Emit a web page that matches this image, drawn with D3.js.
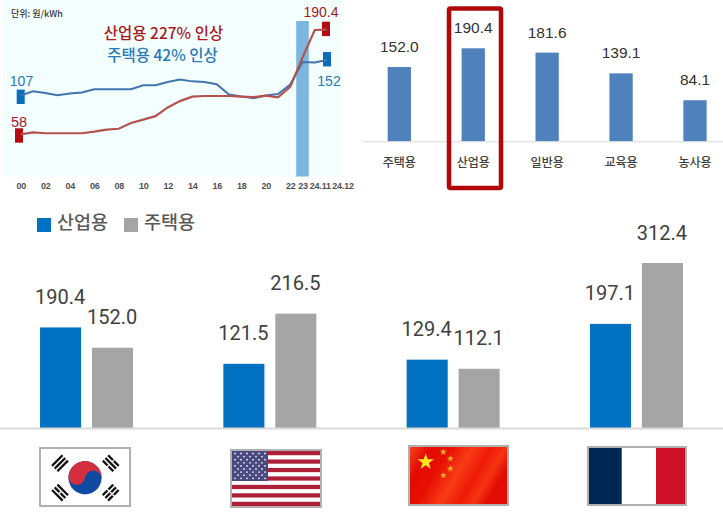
<!DOCTYPE html>
<html>
<head>
<meta charset="utf-8">
<script src="https://cdn.jsdelivr.net/npm/d3@7/dist/d3.min.js"></script>
<style>
html, body { margin: 0; padding: 0; background: #fff; }
svg { display: block; }
text { font-family: "Noto Sans CJK KR", sans-serif; }
.num { font-family: "Liberation Sans", sans-serif; }
.big { font-family: Roboto, sans-serif; }
</style>
</head>
<body>
<div id="root"></div>
<script>
// trend panel
const periods = ['00', '01', '02', '03', '04', '05', '06', '07', '08', '09', '10', '11', '12',
    '13', '14', '15', '16', '17', '18', '19', '20', '21', '22', '23', '24.11', '24.12'];
const shownPeriods = ['00', '02', '04', '06', '08', '10', '12', '14', '16', '18', '20', '22', '23', '24.11', '24.12'];
const industrialTrend = [58, 60.5, 59.3, 59.3, 59.3, 59.3, 61.4, 64, 65, 72.3, 76.6, 81, 92,
    100, 105.7, 106.5, 106.5, 106.5, 105.7, 105, 107, 104.8, 118, 155, 190, 190.4];
const housingTrend = [107, 112.5, 110.4, 107.4, 109.5, 110.8, 115, 115, 115, 115, 120, 120, 124.3,
    127.3, 125, 124.3, 121.3, 108.3, 106, 103.6, 107, 109, 121, 149.6, 149, 152];

// sector panel
const sectors = ['주택용', '산업용', '일반용', '교육용', '농사용'];
const sectorValues = [152.0, 190.4, 181.6, 139.1, 84.1];

// country panel
const countries = ['한국', '미국', '중국', '프랑스'];
const seriesNames = ['산업용', '주택용'];
const industrialByCountry = [190.4, 121.5, 129.4, 197.1];
const housingByCountry = [152.0, 216.5, 112.1, 312.4];

const width = 723;
const height = 514;

const svg = d3.select('#root').append('svg').
    attr('width', width).
    attr('height', height);

const darkText = '#404040';
const redLine = '#b5514f';
const blueLine = '#4275ad';
const redMark = '#b50a0f';
const blueMark = '#0b6cbc';

// ---- trend panel
const trend = svg.append('g');

trend.append('rect').
    attr('x', 3).
    attr('y', 0).
    attr('width', 338).
    attr('height', 176.5).
    attr('fill', '#f3ffff');

const xTrend = d3.scalePoint().domain(periods).range([20.7, 327]);
const yTrend = d3.scaleLinear().domain([58, 190.4]).range([134.3, 29.7]);

trend.append('rect').
    attr('x', xTrend('23') - 6.3).
    attr('y', 21).
    attr('width', 12.6).
    attr('height', 155.5).
    attr('fill', '#7cb6df');

const endMarks = [
    { period: '00', value: industrialTrend[0], color: redMark, dx: -1.7, dy: -6 },
    { period: '00', value: housingTrend[0], color: blueMark, dx: 0, dy: -6 },
    { period: '24.12', value: industrialTrend[25], color: redMark, dx: -1, dy: -8 },
    { period: '24.12', value: housingTrend[25], color: blueMark, dx: 0, dy: -8 }
];

trend.selectAll('.end-mark').data(endMarks).enter().append('rect').
    attr('class', 'end-mark').
    attr('x', d => xTrend(d.period) + d.dx - 4).
    attr('y', d => yTrend(d.value) + d.dy).
    attr('width', 8).
    attr('height', 14.4).
    attr('fill', d => d.color);

const trendLine = d3.line().
    x((d, i) => xTrend(periods[i])).
    y(d => yTrend(d));

trend.append('path').
    attr('d', trendLine(housingTrend)).
    attr('fill', 'none').
    attr('stroke', blueLine).
    attr('stroke-width', 2);

trend.append('path').
    attr('d', trendLine(industrialTrend)).
    attr('fill', 'none').
    attr('stroke', redLine).
    attr('stroke-width', 2.2);

const trendAxis = trend.append('g').
    attr('transform', 'translate(0, 176)').
    call(d3.axisBottom(xTrend).tickValues(shownPeriods).tickSize(0));

trendAxis.select('.domain').remove();
trendAxis.selectAll('text').
    attr('class', 'num').
    attr('y', 6.5).
    attr('dy', '0.71em').
    attr('dx', d => d === '24.11' ? 5 : d === '24.12' ? 15.5 : 0).
    style('font-size', '9px').
    style('font-weight', 'bold').
    style('letter-spacing', '-0.2px').
    attr('fill', '#505050');

const trendTexts = [
    { t: '단위: 원/kWh', x: 11, y: 16.5, size: 9, fill: '#333', anchor: 'start', cls: '', weight: 500 },
    { t: '산업용 227% 인상', x: 163.5, y: 39, size: 15.5, fill: '#a8181c', anchor: 'middle', cls: '', weight: 500 },
    { t: '주택용 42% 인상', x: 162.5, y: 61, size: 15.5, fill: '#2a78b8', anchor: 'middle', cls: '', weight: 500 },
    { t: '107', x: 21.5, y: 85.7, size: 14, fill: '#2a78b8', anchor: 'middle', cls: 'num', weight: 400 },
    { t: '58', x: 19, y: 127, size: 14.5, fill: '#a8181c', anchor: 'middle', cls: 'num', weight: 400 },
    { t: '190.4', x: 321, y: 17, size: 14, fill: '#a8181c', anchor: 'middle', cls: 'num', weight: 400 },
    { t: '152', x: 329, y: 86, size: 14, fill: '#2a78b8', anchor: 'middle', cls: 'num', weight: 400 }
];

trend.selectAll('.note').data(trendTexts).enter().append('text').
    attr('class', d => 'note ' + d.cls).
    attr('x', d => d.x).
    attr('y', d => d.y).
    attr('text-anchor', d => d.anchor).
    attr('fill', d => d.fill).
    style('font-size', d => d.size + 'px').
    style('font-weight', d => d.weight).
    text(d => d.t);

// ---- sector panel
const sector = svg.append('g');

const xSector = d3.scaleBand().
    domain(sectors).
    range([362.3, 732]).
    paddingInner(0.685).
    paddingOuter(0.343);
const sectorBase = 141.3;
const ySector = d3.scaleLinear().domain([0, 190.4]).range([sectorBase, 48.3]);

sector.selectAll('.sector-bar').data(sectorValues).enter().append('rect').
    attr('class', 'sector-bar').
    attr('x', (d, i) => xSector(sectors[i])).
    attr('y', d => ySector(d)).
    attr('width', xSector.bandwidth()).
    attr('height', d => sectorBase - ySector(d)).
    attr('fill', '#4f81bd');

sector.selectAll('.sector-value').data(sectorValues).enter().append('text').
    attr('class', 'sector-value num').
    attr('x', (d, i) => xSector(sectors[i]) + xSector.bandwidth() / 2).
    attr('y', d => ySector(d) - 15).
    attr('text-anchor', 'middle').
    attr('fill', '#333').
    style('font-size', '15.5px').
    text(d => d.toFixed(1));

sector.append('line').
    attr('x1', 363).
    attr('x2', 723).
    attr('y1', sectorBase + 0.5).
    attr('y2', sectorBase + 0.5).
    attr('stroke', '#d9d9d9').
    attr('stroke-width', 1);

const sectorAxis = sector.append('g').
    attr('transform', `translate(0, ${sectorBase})`).
    call(d3.axisBottom(xSector).tickSize(0));

sectorAxis.select('.domain').remove();
sectorAxis.selectAll('text').
    attr('y', 17).
    style('font-size', '12px').
    style('font-weight', 500).
    attr('fill', darkText);

sector.append('rect').
    attr('x', 449).
    attr('y', 8.5).
    attr('width', 52).
    attr('height', 179.5).
    attr('rx', 1.5).
    attr('fill', 'none').
    attr('stroke', '#b00808').
    attr('stroke-width', 4.5);

// ---- country panel
const country = svg.append('g');

const countryBase = 428;
const x0 = d3.scaleBand().domain(countries).range([-5.1, 728.1]);
const x1 = d3.scaleBand().domain(seriesNames).range([-46.5, 46.5]).paddingInner(0.21);
const yCountry = d3.scaleLinear().domain([0, 312.4]).range([countryBase, 263]);
const seriesColor = d3.scaleOrdinal().domain(seriesNames).range(['#0070c0', '#a5a5a5']);

const countryBars = [];
countries.forEach((c, i) => {
    countryBars.push({ c, s: seriesNames[0], v: industrialByCountry[i] });
    countryBars.push({ c, s: seriesNames[1], v: housingByCountry[i] });
});

country.selectAll('.country-bar').data(countryBars).enter().append('rect').
    attr('class', 'country-bar').
    attr('x', d => x0(d.c) + x0.bandwidth() / 2 + x1(d.s)).
    attr('y', d => yCountry(d.v)).
    attr('width', x1.bandwidth()).
    attr('height', d => countryBase - yCountry(d.v)).
    attr('fill', d => seriesColor(d.s));

country.selectAll('.country-value').data(countryBars).enter().append('text').
    attr('class', 'country-value big').
    attr('x', d => x0(d.c) + x0.bandwidth() / 2 + x1(d.s) + x1.bandwidth() / 2 - 0.5).
    attr('y', d => yCountry(d.v) - 23.5).
    attr('text-anchor', 'middle').
    attr('fill', darkText).
    style('font-size', '20px').
    text(d => d.v.toFixed(1));

country.append('line').
    attr('x1', 0).
    attr('x2', width).
    attr('y1', countryBase + 0.5).
    attr('y2', countryBase + 0.5).
    attr('stroke', '#d9d9d9').
    attr('stroke-width', 2);

const legend = country.selectAll('.legend').data(seriesNames).enter().append('g').
    attr('class', 'legend').
    attr('transform', (d, i) => `translate(${37 + i * 87}, 218)`);

legend.append('rect').
    attr('width', 14).
    attr('height', 14).
    attr('fill', d => seriesColor(d));

legend.append('text').
    attr('x', 20).
    attr('y', 10.5).
    attr('fill', '#595959').
    style('font-size', '18.5px').
    style('font-weight', 500).
    text(d => d);

// ---- flags
const flagFrame = (g, x, y, w, h, fill) => {
    g.append('rect').
        attr('x', x + 1).
        attr('y', y + 1).
        attr('width', w - 2).
        attr('height', h - 2).
        attr('fill', fill).
        attr('stroke', '#b0b0b0').
        attr('stroke-width', 2);
};

const drawKorea = (g) => {
    flagFrame(g, 39, 447, 92, 60, '#fff');

    const r = 16.6;
    const yin = g.append('g').attr('transform', 'translate(85, 477.7) rotate(8)');
    yin.append('circle').attr('r', r).attr('fill', '#0f4aa0');
    yin.append('path').
        attr('d', `M${-r} 0 A${r} ${r} 0 0 1 ${r} 0 A${r / 2} ${r / 2} 0 0 0 0 0 A${r / 2} ${r / 2} 0 0 1 ${-r} 0 Z`).
        attr('fill', '#d32f3f');

    // solid / broken bars of the four trigrams
    const trigrams = [
        { x: 60, y: 463.3, a: -45, bars: [1, 1, 1] },
        { x: 110.7, y: 463.3, a: 45, bars: [0, 1, 0] },
        { x: 60, y: 492.7, a: 45, bars: [1, 0, 1] },
        { x: 110.7, y: 492.7, a: -45, bars: [0, 0, 0] }
    ];

    trigrams.forEach((t) => {
        const tg = g.append('g').attr('transform', `translate(${t.x}, ${t.y}) rotate(${t.a})`);
        t.bars.forEach((solid, i) => {
            tg.append('rect').
                attr('x', -7.5).
                attr('y', -5 + i * 3.8).
                attr('width', 15).
                attr('height', 2.3).
                attr('fill', '#111');
            if (!solid) {
                tg.append('rect').
                    attr('x', -0.7).
                    attr('y', -5.2 + i * 3.8).
                    attr('width', 1.4).
                    attr('height', 2.7).
                    attr('fill', '#fff');
            }
        });
    });
};

const drawUsa = (g) => {
    flagFrame(g, 230, 449, 92, 59, '#fff');

    const stripe = d3.scaleBand().domain(d3.range(13)).range([451, 506]);
    g.selectAll('.stripe').data(d3.range(13).filter(i => i % 2 === 0)).enter().append('rect').
        attr('class', 'stripe').
        attr('x', 232).
        attr('y', d => stripe(d)).
        attr('width', 88).
        attr('height', stripe.bandwidth()).
        attr('fill', '#ad1f36');

    g.append('rect').
        attr('x', 232).
        attr('y', 451).
        attr('width', 36).
        attr('height', 30).
        attr('fill', '#4a4a80');

    const dots = [];
    d3.range(9).forEach((row) => {
        d3.range(row % 2 ? 5 : 6).forEach((col) => {
            dots.push({ x: 235 + col * 6 + (row % 2 ? 3 : 0), y: 453.5 + row * 3.1 });
        });
    });

    g.selectAll('.dot').data(dots).enter().append('circle').
        attr('class', 'dot').
        attr('cx', d => d.x).
        attr('cy', d => d.y).
        attr('r', 0.9).
        attr('fill', '#e8e8f4');
};

const drawChina = (g) => {
    const grad = svg.append('defs').append('linearGradient').
        attr('id', 'china-sheen').
        attr('x1', '0%').
        attr('y1', '0%').
        attr('x2', '100%').
        attr('y2', '35%');

    [[0, '#f5481e'], [0.2, '#e40a02'], [0.38, '#e80f02'], [0.58, '#f83c16'], [0.75, '#ee1a06'], [0.88, '#f63412'], [1, '#e20c02']].
        forEach(s => grad.append('stop').attr('offset', s[0]).attr('stop-color', s[1]));

    flagFrame(g, 408, 445, 101, 61, 'url(#china-sheen)');

    const star = d3.symbol().type(d3.symbolStar);

    g.append('path').
        attr('d', star.size(85)()).
        attr('transform', 'translate(425.7, 462)').
        attr('fill', '#ffe61a');

    [[443.3, 452], [450.3, 458.7], [450.3, 468.7], [443.3, 475.3]].forEach((p) => {
        g.append('path').
            attr('d', star.size(15)()).
            attr('transform', `translate(${p[0]}, ${p[1]})`).
            attr('fill', '#f9b21c');
    });
};

const drawFrance = (g) => {
    flagFrame(g, 587, 446, 100, 60, '#fff');

    g.append('rect').attr('x', 589).attr('y', 448).attr('width', 32.7).attr('height', 56).attr('fill', '#002654');
    g.append('rect').attr('x', 656).attr('y', 448).attr('width', 29).attr('height', 56).attr('fill', '#ce1126');
};

const flags = svg.append('g');
drawKorea(flags.append('g'));
drawUsa(flags.append('g'));
drawChina(flags.append('g'));
drawFrance(flags.append('g'));
</script>
</body>
</html>
